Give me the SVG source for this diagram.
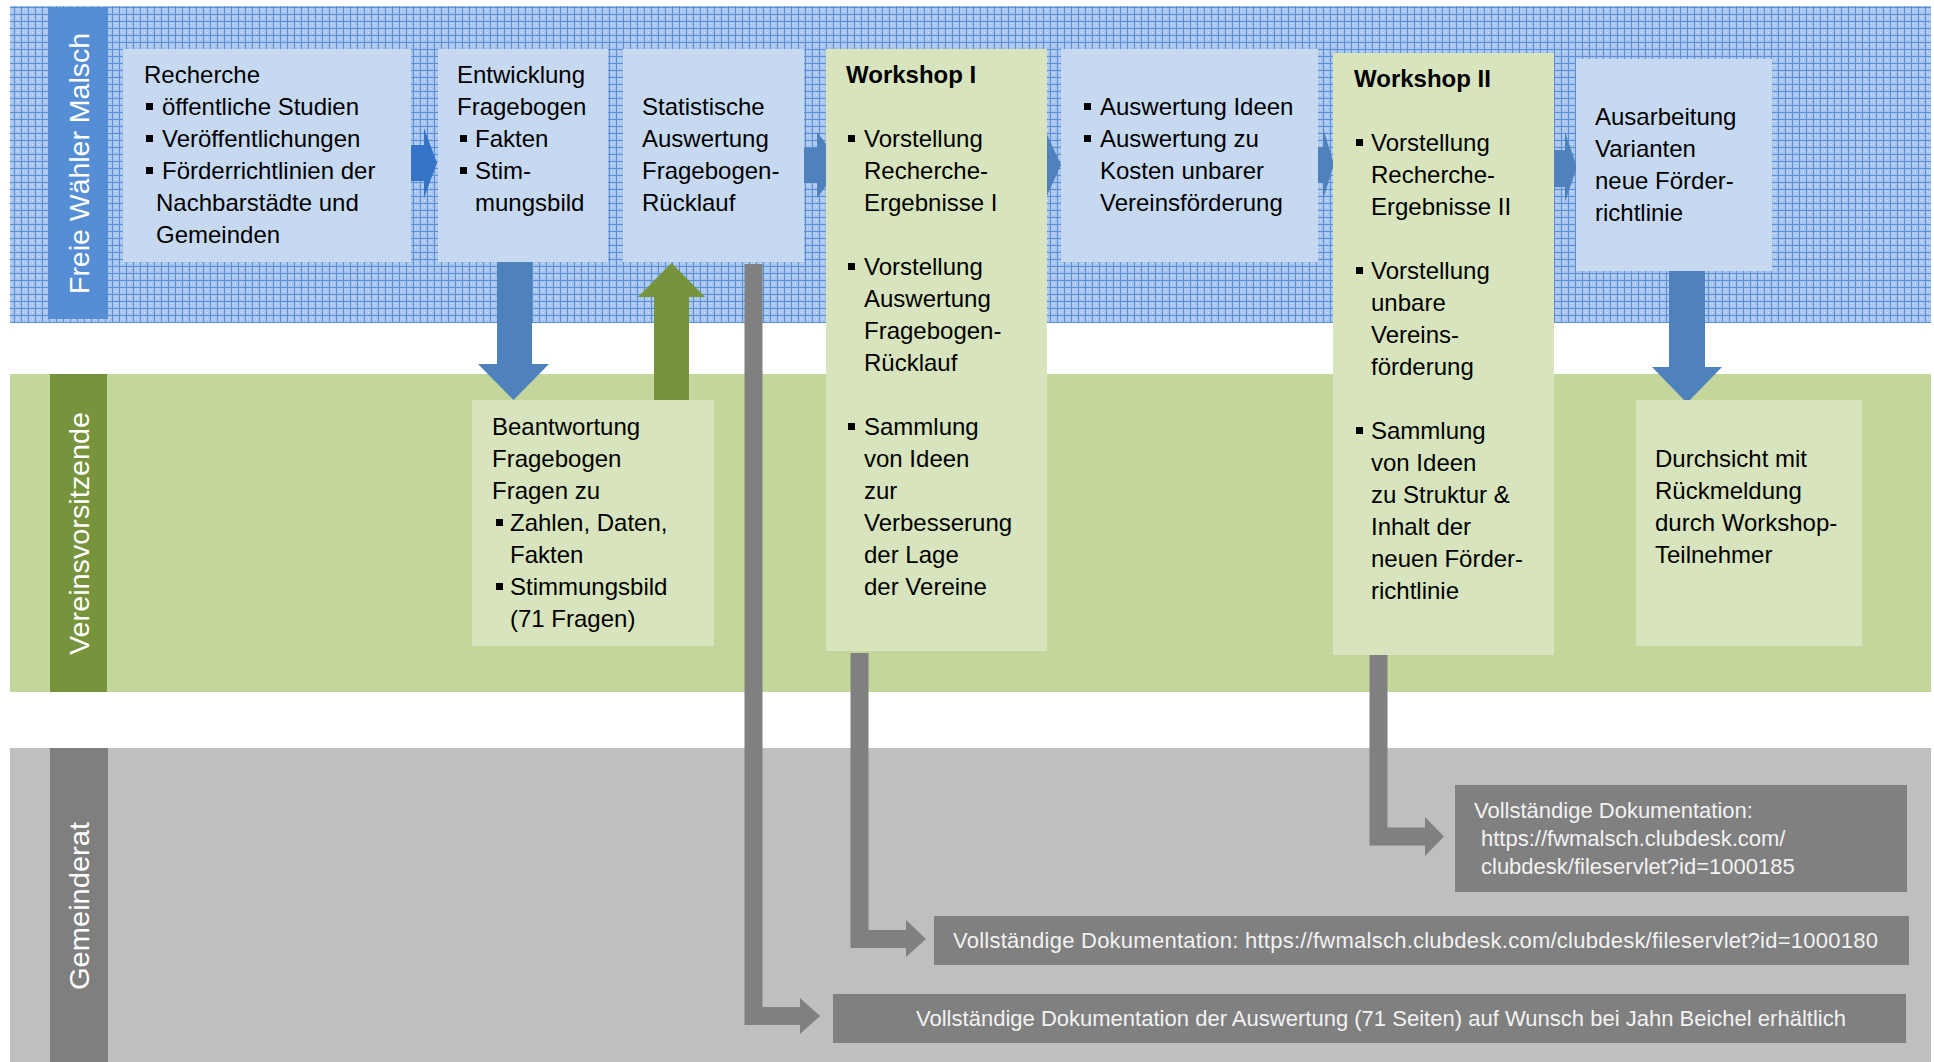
<svg xmlns="http://www.w3.org/2000/svg" width="1934" height="1062" viewBox="0 0 1934 1062">
<style>
text{font-family:"Liberation Sans",Arial,sans-serif;font-size:24px;fill:#000}
.b{font-weight:bold}
.lane-t{font-size:28px;fill:#fff}
.g{font-size:22px;fill:#f2f2f2}
.bbox{fill:#c6d9f1}
.gbox{fill:#d7e4bd}
.dbox{fill:#808080}
.bul{fill:#000}
.blue{fill:#4f81bd}
.gray{fill:#808080}
.gline{fill:none;stroke:#808080;stroke-width:18;stroke-linejoin:miter}
</style>
<defs>
<pattern id="grid" width="7" height="7" patternUnits="userSpaceOnUse">
<rect width="7" height="7" fill="#a6c4ec"/>
<path d="M0 0.5H7M0.5 0V7" stroke="#5990d8" stroke-width="1"/>
<rect x="2" y="2" width="1" height="1" fill="#d6e5f7"/>
<rect x="4" y="4" width="1" height="1" fill="#d6e5f7"/>
<rect x="2" y="4" width="1" height="1" fill="#c6daf3"/>
<rect x="4" y="2" width="1" height="1" fill="#c6daf3"/>
</pattern>
</defs>

<g id="lanes">
<g id="lane-fwm">
<rect x="10" y="6" width="1921" height="317" fill="url(#grid)"/>
<rect x="48" y="7" width="60" height="312" fill="#558ed5"/>
<text class="lane-t" transform="translate(89,163.5) rotate(-90)" text-anchor="middle" textLength="261" lengthAdjust="spacingAndGlyphs">Freie Wähler Malsch</text>
</g>
<g id="lane-vv">
<rect x="10" y="374" width="1921" height="318" fill="#c3d69b"/>
<rect x="50" y="374" width="57" height="318" fill="#77933c"/>
<text class="lane-t" transform="translate(89,533.5) rotate(-90)" text-anchor="middle" textLength="243" lengthAdjust="spacingAndGlyphs">Vereinsvorsitzende</text>
</g>
<g id="lane-gr">
<rect x="10" y="748" width="1921" height="314" fill="#bfbfbf"/>
<rect x="50" y="748" width="58" height="314" fill="#7f7f7f"/>
<text class="lane-t" transform="translate(89,906) rotate(-90)" text-anchor="middle" textLength="168" lengthAdjust="spacingAndGlyphs">Gemeinderat</text>
</g>
</g>

<g id="connectors">
<polygon fill="#3473c6" points="405,145 424,145 424,128 437,163 424,198 424,181 405,181"/>
<polygon class="blue" points="795,148 817,148 817,132 842,165 817,198 817,183 795,183"/>
<polygon class="blue" points="1030,148 1045,148 1045,130 1061,165 1045,200 1045,183 1030,183"/>
<polygon class="blue" points="1305,147 1323,147 1323,128 1334,164 1323,200 1323,183 1305,183"/>
<polygon class="blue" points="1545,150 1565,150 1565,132 1577,167 1565,202 1565,187 1545,187"/>
<polygon class="blue" points="497,261 532,261 532,364 549,364 513.5,400 478,364 497,364"/>
<polygon fill="#77933c" points="654,400 689,400 689,297 705,297 671.5,263 638,297 654,297"/>
<polygon class="blue" points="1669,271 1705,271 1705,367 1722,367 1687,403 1652,367 1669,367"/>
<path class="gline" d="M753.5 264V1016H801"/>
<polygon class="gray" points="800,998 820,1016 800,1034"/>
<path class="gline" d="M859.5 653V939H907"/>
<polygon class="gray" points="906,920 926,939 906,957"/>
<path class="gline" d="M1378.5 654V836.5H1426"/>
<polygon class="gray" points="1425,817 1444,836.5 1425,856"/>
</g>

<g id="n-recherche">
<rect class="bbox" x="123" y="49" width="288" height="213"/>
<text x="144" y="83">Recherche</text>
<rect class="bul" x="146" y="103" width="7" height="7"/><text x="162" y="115">öffentliche Studien</text>
<rect class="bul" x="146" y="135" width="7" height="7"/><text x="162" y="147">Veröffentlichungen</text>
<rect class="bul" x="146" y="167" width="7" height="7"/><text x="162" y="179">Förderrichtlinien der</text>
<text x="156" y="211">Nachbarstädte und</text>
<text x="156" y="243">Gemeinden</text>
</g>

<g id="n-entwicklung">
<rect class="bbox" x="438" y="49" width="170" height="213"/>
<text x="457" y="83">Entwicklung</text>
<text x="457" y="115">Fragebogen</text>
<rect class="bul" x="460" y="135" width="7" height="7"/><text x="475" y="147">Fakten</text>
<rect class="bul" x="460" y="167" width="7" height="7"/><text x="475" y="179">Stim-</text>
<text x="475" y="211">mungsbild</text>
</g>

<g id="n-statistik">
<rect class="bbox" x="623" y="49" width="181" height="213"/>
<text x="642" y="115">Statistische</text>
<text x="642" y="147">Auswertung</text>
<text x="642" y="179">Fragebogen-</text>
<text x="642" y="211">Rücklauf</text>
</g>

<g id="n-workshop1">
<rect class="gbox" x="826" y="49" width="221" height="602"/>
<text class="b" x="846" y="83">Workshop I</text>
<rect class="bul" x="848" y="135" width="7" height="7"/><text x="864" y="147">Vorstellung</text>
<text x="864" y="179">Recherche-</text>
<text x="864" y="211">Ergebnisse I</text>
<rect class="bul" x="848" y="263" width="7" height="7"/><text x="864" y="275">Vorstellung</text>
<text x="864" y="307">Auswertung</text>
<text x="864" y="339">Fragebogen-</text>
<text x="864" y="371">Rücklauf</text>
<rect class="bul" x="848" y="423" width="7" height="7"/><text x="864" y="435">Sammlung</text>
<text x="864" y="467">von Ideen</text>
<text x="864" y="499">zur</text>
<text x="864" y="531">Verbesserung</text>
<text x="864" y="563">der Lage</text>
<text x="864" y="595">der Vereine</text>
</g>

<g id="n-auswertung">
<rect class="bbox" x="1061" y="49" width="257" height="213"/>
<rect class="bul" x="1084" y="103" width="7" height="7"/><text x="1100" y="115">Auswertung Ideen</text>
<rect class="bul" x="1084" y="135" width="7" height="7"/><text x="1100" y="147">Auswertung zu</text>
<text x="1100" y="179">Kosten unbarer</text>
<text x="1100" y="211">Vereinsförderung</text>
</g>

<g id="n-workshop2">
<rect class="gbox" x="1333" y="53" width="221" height="602"/>
<text class="b" x="1354" y="87">Workshop II</text>
<rect class="bul" x="1356" y="139" width="7" height="7"/><text x="1371" y="151">Vorstellung</text>
<text x="1371" y="183">Recherche-</text>
<text x="1371" y="215">Ergebnisse II</text>
<rect class="bul" x="1356" y="267" width="7" height="7"/><text x="1371" y="279">Vorstellung</text>
<text x="1371" y="311">unbare</text>
<text x="1371" y="343">Vereins-</text>
<text x="1371" y="375">förderung</text>
<rect class="bul" x="1356" y="427" width="7" height="7"/><text x="1371" y="439">Sammlung</text>
<text x="1371" y="471">von Ideen</text>
<text x="1371" y="503">zu Struktur &amp;</text>
<text x="1371" y="535">Inhalt der</text>
<text x="1371" y="567">neuen Förder-</text>
<text x="1371" y="599">richtlinie</text>
</g>

<g id="n-ausarbeitung">
<rect class="bbox" x="1576" y="59" width="196" height="212"/>
<text x="1595" y="125">Ausarbeitung</text>
<text x="1595" y="157">Varianten</text>
<text x="1595" y="189">neue Förder-</text>
<text x="1595" y="221">richtlinie</text>
</g>

<g id="n-beantwortung">
<rect class="gbox" x="472" y="400" width="242" height="246"/>
<text x="492" y="435">Beantwortung</text>
<text x="492" y="467">Fragebogen</text>
<text x="492" y="499">Fragen zu</text>
<rect class="bul" x="496" y="519" width="7" height="7"/><text x="510" y="531">Zahlen, Daten,</text>
<text x="510" y="563">Fakten</text>
<rect class="bul" x="496" y="583" width="7" height="7"/><text x="510" y="595">Stimmungsbild</text>
<text x="510" y="627">(71 Fragen)</text>
</g>

<g id="n-durchsicht">
<rect class="gbox" x="1636" y="400" width="226" height="246"/>
<text x="1655" y="467">Durchsicht mit</text>
<text x="1655" y="499">Rückmeldung</text>
<text x="1655" y="531">durch Workshop-</text>
<text x="1655" y="563">Teilnehmer</text>
</g>

<g id="n-doc185">
<rect class="dbox" x="1455" y="785" width="452" height="107"/>
<text class="g" x="1474" y="818">Vollständige Dokumentation:</text>
<text class="g" x="1481" y="846">https://fwmalsch.clubdesk.com/</text>
<text class="g" x="1481" y="874">clubdesk/fileservlet?id=1000185</text>
</g>

<g id="n-doc180">
<rect class="dbox" x="934" y="916" width="975" height="49"/>
<text class="g" x="953" y="948" textLength="925">Vollständige Dokumentation: https://fwmalsch.clubdesk.com/clubdesk/fileservlet?id=1000180</text>
</g>

<g id="n-docauswertung">
<rect class="dbox" x="833" y="994" width="1073" height="49"/>
<text class="g" x="916" y="1026" textLength="930">Vollständige Dokumentation der Auswertung (71 Seiten) auf Wunsch bei Jahn Beichel erhältlich</text>
</g>
</svg>
